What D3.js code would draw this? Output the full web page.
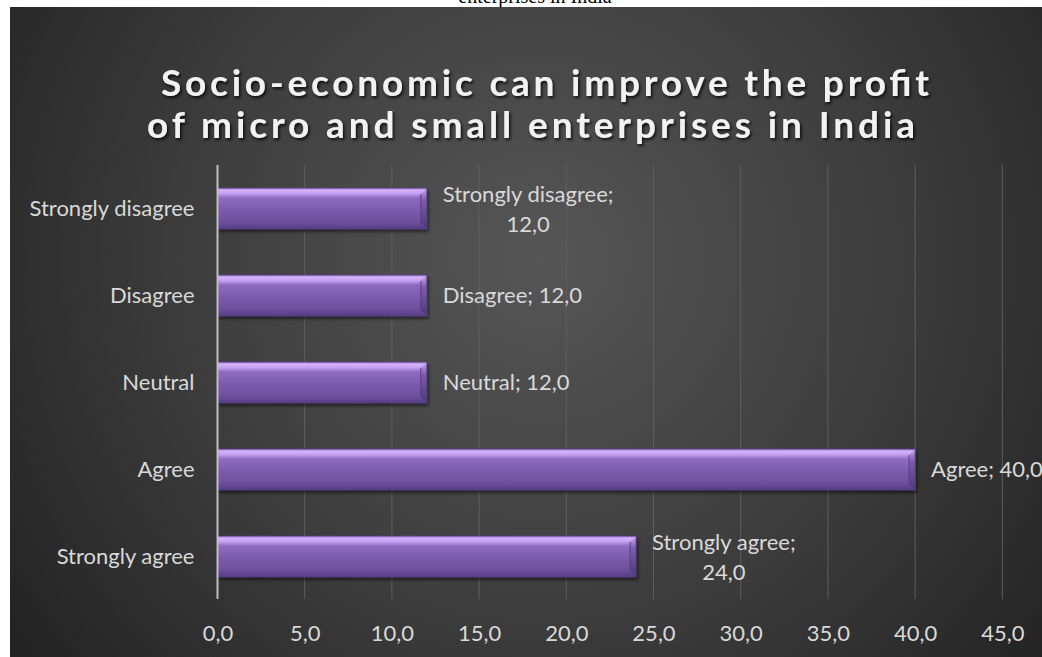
<!DOCTYPE html>
<html>
<head>
<meta charset="utf-8">
<script src="https://cdn.jsdelivr.net/npm/d3@7"></script>
<style>
  html, body { margin: 0; padding: 0; background: #ffffff; }
  svg { display: block; }
</style>
</head>
<body>
<svg id="chart" width="1042" height="657"></svg>
<script>
// Survey answers, listed from the top row of the chart to the bottom row
const categories = ["Strongly disagree", "Disagree", "Neutral", "Agree", "Strongly agree"];
const values = [12.0, 12.0, 12.0, 40.0, 24.0];
const xTicks = [0, 5, 10, 15, 20, 25, 30, 35, 40, 45];
const titleLines = ["Socio-economic can improve the profit", "of micro and small enterprises in India"];
const captionTail = "enterprises in India";

const fmt = v => d3.format(".1f")(v).replace(".", ",");
const FONT = "Lato, 'Open Sans', sans-serif";
const LABEL_SIZE = 22;

const svg = d3.select("#chart");
const defs = svg.append("defs");

// Panel background: soft spotlight in the upper centre
const bg = defs.append("radialGradient").attr("id", "bgGrad")
  .attr("gradientUnits", "userSpaceOnUse")
  .attr("cx", 540).attr("cy", 260).attr("r", 640);
bg.append("stop").attr("offset", "0%").attr("stop-color", "#565656");
bg.append("stop").attr("offset", "55%").attr("stop-color", "#3d3d3d");
bg.append("stop").attr("offset", "100%").attr("stop-color", "#242424");

// Bar body gradient (glossy top, darker bottom)
const barGrad = defs.append("linearGradient").attr("id", "barGrad")
  .attr("x1", 0).attr("y1", 0).attr("x2", 0).attr("y2", 1);
[["0%", "#a884d6"], ["6%", "#d4b2fb"], ["14%", "#c29ff0"], ["24%", "#8e6cc0"],
 ["55%", "#7b5aab"], ["85%", "#6d4e9c"], ["100%", "#553c82"]]
  .forEach(([o, c]) => barGrad.append("stop").attr("offset", o).attr("stop-color", c));

const capGrad = defs.append("linearGradient").attr("id", "capGrad")
  .attr("x1", 0).attr("y1", 0).attr("x2", 0).attr("y2", 1);
[["0%", "#c9a8f2"], ["30%", "#7d5cad"], ["100%", "#4f3779"]]
  .forEach(([o, c]) => capGrad.append("stop").attr("offset", o).attr("stop-color", c));

const shadow = defs.append("filter").attr("id", "barShadow")
  .attr("x", "-5%").attr("y", "-20%").attr("width", "110%").attr("height", "150%");
shadow.append("feDropShadow").attr("dx", 1.5).attr("dy", 2.5).attr("stdDeviation", 1.8)
  .attr("flood-color", "#000").attr("flood-opacity", 0.55);

const titleShadow = defs.append("filter").attr("id", "titleShadow")
  .attr("x", "-5%").attr("y", "-30%").attr("width", "110%").attr("height", "160%");
titleShadow.append("feDropShadow").attr("dx", 1.5).attr("dy", 2).attr("stdDeviation", 1.5)
  .attr("flood-color", "#000").attr("flood-opacity", 0.8);

// Caption text running above the chart panel (clipped by the page top)
svg.append("text")
  .attr("x", 535).attr("y", 3)
  .attr("text-anchor", "middle")
  .attr("font-family", "'Liberation Serif', 'DejaVu Serif', serif")
  .attr("font-size", 20).attr("fill", "#000")
  .text(captionTail);

svg.append("rect")
  .attr("x", 10).attr("y", 7).attr("width", 1032).attr("height", 650)
  .attr("fill", "url(#bgGrad)");

// Title
const title = svg.append("g").attr("filter", "url(#titleShadow)")
  .attr("font-family", FONT).attr("font-weight", 700)
  .attr("font-size", 37).attr("fill", "#f2f2f2");
title.append("text")
  .attr("x", 161).attr("y", 96)
  .attr("textLength", 768).attr("lengthAdjust", "spacing")
  .text(titleLines[0]);
title.append("text")
  .attr("x", 147).attr("y", 138)
  .attr("textLength", 768).attr("lengthAdjust", "spacing")
  .text(titleLines[1]);

// Scales
const x = d3.scaleLinear().domain([0, 45]).range([217.5, 1002.3]);
const y = d3.scaleBand().domain(categories).range([165, 600]).paddingInner(0.53).paddingOuter(0.265);

const plotTop = 165, plotBottom = 599;

// Vertical gridlines
svg.append("g").selectAll("line")
  .data(xTicks.filter(t => t > 0))
  .join("line")
  .attr("x1", d => x(d)).attr("x2", d => x(d))
  .attr("y1", plotTop).attr("y2", plotBottom)
  .attr("stroke", "#5e5e5e").attr("stroke-width", 1);

// X axis tick labels
const xAxis = d3.axisBottom(x).tickValues(xTicks).tickFormat(fmt).tickSize(0).tickPadding(0);
const xg = svg.append("g").attr("transform", `translate(0,${plotBottom})`).call(xAxis);
xg.select(".domain").remove();
xg.selectAll("text")
  .attr("y", 42).attr("dy", 0)
  .attr("font-family", FONT)
  .attr("font-size", LABEL_SIZE).attr("fill", "#d9d9d9");

// Y axis category labels
const yAxis = d3.axisLeft(y).tickSize(0).tickPadding(23);
const yg = svg.append("g").attr("transform", `translate(${x(0)},0)`).call(yAxis);
yg.select(".domain").remove();
yg.selectAll("text")
  .attr("dy", "0.35em")
  .attr("font-family", FONT)
  .attr("font-size", LABEL_SIZE).attr("fill", "#d9d9d9");

// Bars
const rows = categories.map((c, i) => ({ cat: c, val: values[i] }));
const bars = svg.append("g").selectAll("g.bar").data(rows).join("g")
  .attr("class", "bar").attr("filter", "url(#barShadow)");

bars.append("rect")
  .attr("x", x(0)).attr("y", d => y(d.cat))
  .attr("width", d => x(d.val) - x(0)).attr("height", y.bandwidth())
  .attr("fill", "url(#barGrad)");

// Bevelled right end of each bar
const bev = 6;
bars.append("polygon")
  .attr("points", d => {
    const x1 = x(d.val), y0 = y(d.cat), h = y.bandwidth();
    return [[x1 - bev, y0 + bev], [x1, y0], [x1, y0 + h], [x1 - bev, y0 + h - bev]]
      .map(p => p.join(",")).join(" ");
  })
  .attr("fill", "url(#capGrad)");
bars.append("line")
  .attr("x1", d => x(d.val) - bev).attr("x2", d => x(d.val) - bev)
  .attr("y1", d => y(d.cat) + bev).attr("y2", d => y(d.cat) + y.bandwidth() - bev)
  .attr("stroke", "#5a3f88").attr("stroke-width", 1);
// thin outline
bars.append("rect")
  .attr("x", x(0)).attr("y", d => y(d.cat))
  .attr("width", d => x(d.val) - x(0)).attr("height", y.bandwidth())
  .attr("fill", "none").attr("stroke", "#5b4188").attr("stroke-width", 0.8);

// Y axis line
svg.append("line")
  .attr("x1", x(0)).attr("x2", x(0))
  .attr("y1", plotTop).attr("y2", plotBottom)
  .attr("stroke", "#bfbfbf").attr("stroke-width", 2);

// Data labels: "Category; value", wrapped onto two lines for the long names
const labels = svg.append("g")
  .attr("font-family", FONT)
  .attr("font-size", LABEL_SIZE).attr("fill", "#d9d9d9");

rows.forEach(d => {
  const cy = y(d.cat) + y.bandwidth() / 2;
  const lx = x(d.val) + 16;
  if (d.cat.startsWith("Strongly")) {
    const t = labels.append("text").attr("text-anchor", "middle");
    const first = d.cat + ";";
    t.append("tspan").attr("y", cy - 7).text(first);
    t.append("tspan").attr("y", cy + 23).text(fmt(d.val));
    // centre both lines on the first line's width
    const w = t.select("tspan").node().getComputedTextLength();
    t.selectAll("tspan").attr("x", lx + w / 2);
  } else {
    labels.append("text")
      .attr("x", lx).attr("y", cy).attr("dy", "0.35em")
      .text(`${d.cat}; ${fmt(d.val)}`);
  }
});
</script>
</body>
</html>
